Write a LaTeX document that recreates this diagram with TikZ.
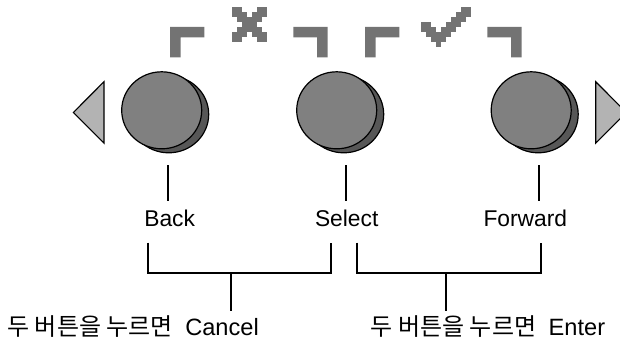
\documentclass[tikz,border=0pt]{standalone}
\usepackage{fontspec}
\setmainfont{Liberation Sans}
\newfontfamily\kr{Noto Sans CJK KR}
\usetikzlibrary{shapes.geometric}

\definecolor{btnface}{HTML}{808080}
\definecolor{btnshade}{HTML}{575757}
\definecolor{arrowfill}{HTML}{B3B3B3}
\definecolor{pixgray}{HTML}{737373}

\tikzset{
  btn/.style={ellipse, draw=black, line width=1.2pt, fill=btnface,
              minimum width=80pt, minimum height=77pt, inner sep=0pt},
  btnshadow/.style={btn, fill=btnshade},
  navtri/.style={draw=black, line width=1.1pt, fill=arrowfill, line join=miter},
  wire/.style={draw=black, line width=2pt},
  lbl/.style={font=\fontsize{22.8}{24}\selectfont, inner sep=0pt, anchor=base},
  combo/.style={font=\fontsize{23.6}{25}\selectfont, inner sep=0pt, anchor=base west},
  pix/.style={fill=pixgray}
}

% corner brackets around the two symbols
\newcommand\lbrk[2]{\fill[pix] (#1,#2) -- ++(34.3,0) -- ++(0,10.5) -- ++(-23.8,0) -- ++(0,20.1) -- ++(-10.5,0) -- cycle;}
\newcommand\rbrk[2]{\fill[pix] (#1,#2) -- ++(-34.3,0) -- ++(0,10.5) -- ++(23.8,0) -- ++(0,20.1) -- ++(10.5,0) -- cycle;}
% Korean part of the combination captions
\newcommand\krpart{{\kr\fontsize{24}{26}\selectfont 두 버튼을 누르면}}

\begin{document}
\begin{tikzpicture}[x=1pt,y=-1pt]
\useasboundingbox (0,0) rectangle (620,342);

\lbrk{170}{26.8}
\rbrk{327.7}{26.8}
\lbrk{365}{26.8}
\rbrk{521.7}{26.8}

% pixel cross
\foreach \c/\r in {0/0,1/0,5/0,6/0,
                   0/1,1/1,2/1,4/1,5/1,6/1,
                   1/2,2/2,3/2,4/2,5/2,
                   2/3,3/3,4/3,
                   1/4,2/4,3/4,4/4,5/4,
                   0/5,1/5,2/5,4/5,5/5,6/5,
                   0/6,1/6,5/6,6/6}
  \fill[pix] (231.7+\c*5, 6.7+\r*5) rectangle ++(5.05,5.05);

% pixel check mark
\foreach \c/\r in {8/0,9/0,
                   7/1,8/1,9/1,
                   6/2,7/2,8/2,
                   0/3,1/3,5/3,6/3,7/3,
                   0/4,1/4,2/4,4/4,5/4,6/4,
                   1/5,2/5,3/5,4/5,5/5,
                   2/6,3/6,4/6,
                   3/7}
  \fill[pix] (421+\c*5, 6.7+\r*5) rectangle ++(5.05,5.05);

% navigation triangles
\filldraw[navtri] (104,81.7) -- (73.3,112.5) -- (104,143.2) -- cycle;
\filldraw[navtri] (595.7,81.7) -- (626.4,112.5) -- (595.7,143.2) -- cycle;

% buttons with their shadows
\node[btnshadow] (sback) at (168.7,114.3) {};
\node[btn] (bback) at (161.7,110.3) {};
\node[btnshadow] (sselect) at (343.7,114.3) {};
\node[btn] (bselect) at (336.7,110.3) {};
\node[btnshadow] (sfwd) at (538.2,114.3) {};
\node[btn] (bfwd) at (531.2,110.3) {};

% labels
\node[lbl] (tback) at (169.7,226) {Back};
\node[lbl] (tselect) at (346.7,226) {Select};
\node[lbl] (tfwd) at (525.3,226) {Forward};

\node[combo] (tcancel) at (7.3,335.7) {\krpart\hspace{12.5pt}Cancel};
\node[combo] (tenter) at (370.7,335.7) {\krpart\hspace{12.5pt}Enter};

% leader lines from buttons to labels
\coordinate (uback) at (168.3,165);
\coordinate (uselect) at (345.7,165);
\coordinate (ufwd) at (539,165);
\coordinate (dback) at (168.3,200.7);
\coordinate (dselect) at (345.7,200.7);
\coordinate (dfwd) at (539,200.7);
\draw[wire] (uback) -- (dback);
\draw[wire] (uselect) -- (dselect);
\draw[wire] (ufwd) -- (dfwd);

% brackets joining button pairs
\coordinate (p1a) at (148.2,242.5);
\coordinate (p1b) at (331,242.5);
\coordinate (p2a) at (357,242.5);
\coordinate (p2b) at (540.7,242.5);
\coordinate (m1) at (231,273.3);
\coordinate (m2) at (445.7,273.3);
\coordinate (e1) at (231,310.7);
\coordinate (e2) at (445.7,310.7);
\draw[wire, line join=miter] (p1a) |- (m1) -| (p1b);
\draw[wire, line join=miter] (p2a) |- (m2) -| (p2b);
\draw[wire] (m1) -- (e1);
\draw[wire] (m2) -- (e2);
\end{tikzpicture}
\end{document}
